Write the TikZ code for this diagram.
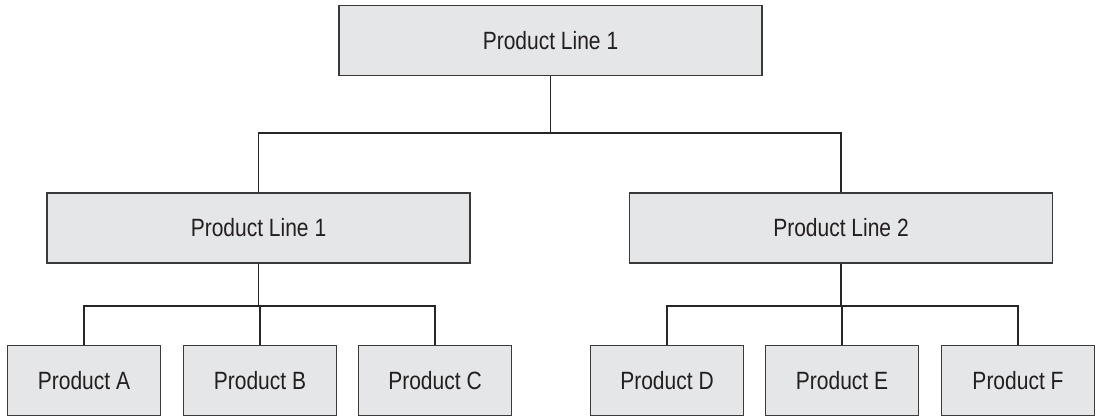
\documentclass[tikz,border=0pt]{standalone}
\usepackage{fontspec}
\setmainfont{Liberation Sans}[FakeStretch=0.84]
\definecolor{boxfill}{HTML}{E5E6E7}
\definecolor{boxline}{HTML}{3A3A3A}
\definecolor{txt}{HTML}{231F20}
\tikzset{
  org/.style={draw=boxline, fill=boxfill, line width=1.5pt, inner sep=0pt,
    minimum height=70pt, text=txt, font=\fontsize{25}{29}\selectfont},
  bigbox/.style={org, minimum width=423pt},
  smallbox/.style={org, minimum width=153pt},
  link/.style={draw=black!85, line width=1.4pt}
}
\begin{document}
\begin{tikzpicture}[x=1pt,y=-1pt]
\useasboundingbox (0,0) rectangle (1098,418);
\node[bigbox] (top) at (550.5,40.5) {Product Line 1};
\node[bigbox] (lm) at (258.5,228) {Product Line 1};
\node[bigbox] (rm) at (841,228) {Product Line 2};
\node[smallbox] (a) at (84,380.5) {Product A};
\node[smallbox] (b) at (260,380.5) {Product B};
\node[smallbox] (c) at (435,380.5) {Product C};
\node[smallbox] (d) at (667,380.5) {Product D};
\node[smallbox] (e) at (842,380.5) {Product E};
\node[smallbox] (f) at (1018,380.5) {Product F};
\coordinate (bus1) at (550.5,133);
\coordinate (busl) at (258.5,306);
\coordinate (busr) at (841,306);
\draw[link] (top.south) -- (bus1);
\draw[link] (bus1) -| (lm.north);
\draw[link] (bus1) -| (rm.north);
\draw[link] (lm.south) -- (busl);
\draw[link] (busl) -| (a.north);
\draw[link] (busl) -| (b.north);
\draw[link] (busl) -| (c.north);
\draw[link] (rm.south) -- (busr);
\draw[link] (busr) -| (d.north);
\draw[link] (busr) -| (e.north);
\draw[link] (busr) -| (f.north);
\end{tikzpicture}
\end{document}
